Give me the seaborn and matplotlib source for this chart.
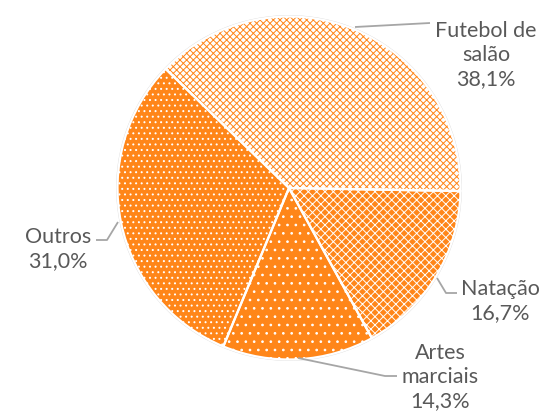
import matplotlib
matplotlib.use("Agg")
import matplotlib.pyplot as plt
import seaborn as sns

# ---- data ----
categories = ["Futebol de\nsalão", "Natação", "Artes\nmarciais", "Outros"]
values = [38.1, 16.7, 14.3, 31.0]
value_labels = ["38,1%", "16,7%", "14,3%", "31,0%"]

# ---- style ----
sns.set_theme(style="white")
plt.rcParams["font.family"] = ["Lato", "DejaVu Sans"]
plt.rcParams["hatch.linewidth"] = 0.7

ORANGE = "#FF8619"
TEXT = "#595959"
LINE = "#A6A6A6"
faces = ["white", ORANGE, ORANGE, ORANGE]
hatch_cols = [ORANGE, "white", "white", "white"]
hatches = ["xxxxx", "xxxx", "..", "..."]

W, H = 556, 417
CX, CY, R = 289, 188, 171.5

def P(x, y):
    return ((x - CX) / R, (CY - y) / R)

fig = plt.figure(figsize=(W / 100, H / 100), dpi=100)
ax = fig.add_axes([0, 0, 1, 1])

wedges, _ = ax.pie(values, startangle=136, counterclock=False, radius=1,
                   colors=faces, wedgeprops=dict(linewidth=0))
for w, hc, h in zip(wedges, hatch_cols, hatches):
    w.set_edgecolor(hc)
    w.set_hatch(h)
    w.set_linewidth(0)

# borders
ax.pie(values, startangle=136, counterclock=False, radius=1,
       colors=["none"] * 4,
       wedgeprops=dict(linewidth=1.6, edgecolor="white", fill=False))
# subtle outline
circ = plt.Circle((0, 0), 1.004, fill=False, edgecolor="#D9D9D9", linewidth=1.0, zorder=0)
ax.add_patch(circ)

# leader lines
leaders = [
    [(355, 27), (430, 23)],
    [(437, 278), (446, 293), (457, 293)],
    [(298, 358), (385, 376), (397, 376)],
    [(118, 222), (107, 240), (96, 240)],
]
for pts in leaders:
    xs, ys = zip(*[P(*p) for p in pts])
    ax.plot(xs, ys, color=LINE, linewidth=1.3, solid_capstyle="butt")

fs = 15.5
labels_pos = [
    (486, 55, "center"),
    (500, 301, "center"),
    (440, 377, "center"),
    (58, 249, "center"),
]
for (x, y, ha), cat, vl in zip(labels_pos, categories, value_labels):
    tx, ty = P(x, y)
    ax.text(tx, ty, f"{cat}\n{vl}", ha=ha, va="center", color=TEXT,
            fontsize=fs, linespacing=1.25, multialignment="center")

ax.set_xlim(-CX / R, (W - CX) / R)
ax.set_ylim(-(H - CY) / R, CY / R)
ax.set_aspect("auto")
ax.axis("off")

fig.savefig("out.png", dpi=100)
